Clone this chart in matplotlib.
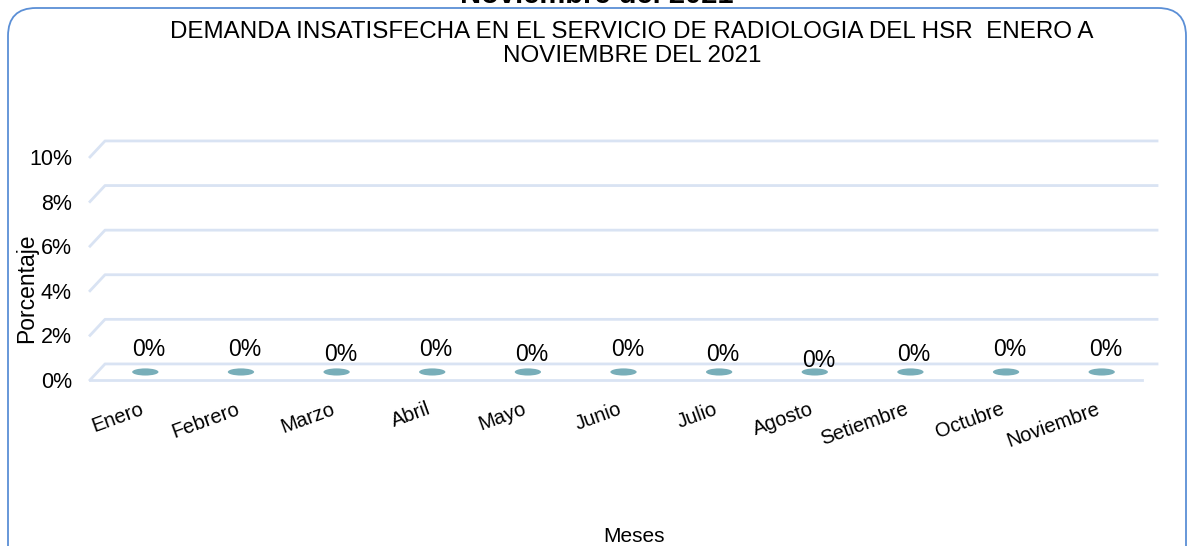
import matplotlib.pyplot as plt
import numpy as np
from matplotlib.patches import Ellipse, FancyBboxPatch

plt.rcParams['font.family'] = ['Liberation Sans', 'DejaVu Sans']

# Data
meses = ['Enero', 'Febrero', 'Marzo', 'Abril', 'Mayo', 'Junio', 'Julio',
         'Agosto', 'Setiembre', 'Octubre', 'Noviembre']
demanda = [0, 0, 0, 0, 0, 0, 0, 0, 0, 0, 0]   # percent
y_ticks = [0, 2, 4, 6, 8, 10]
y_labels = ['0%', '2%', '4%', '6%', '8%', '10%']

# style
grid_col = '#d9e3f3'
bar_col = '#78aeb9'
border_col = '#5b8fd6'
# small vertical nudges of the data labels (points), as placed in the original
label_nudge = [0, 0, -3.5, 0, -3.5, 0, -3.5, -8, -3.5, 0, 0]

fig = plt.figure(figsize=(11.91, 5.46), dpi=100)
ax = fig.add_axes([90 / 1191, 1 - 380 / 546, 1052 / 1191, 223 / 546])
ax.set_xlim(-0.5, len(meses) - 0.5)
ax.set_ylim(0, 10)
for s in ax.spines.values():
    s.set_visible(False)

# pseudo 3D depth offset (data units)
dx, dy = 0.157, 0.72
x0, x1 = -0.5, len(meses) - 0.5

# back wall gridlines with slanted side edge
for yv in y_ticks[1:]:
    ax.plot([x0, x0 + dx, x1 + dx], [yv, yv + dy, yv + dy],
            color=grid_col, lw=2, clip_on=False, zorder=1)
# floor
ax.plot([x0, x0 + dx, x1 + dx], [0, dy, dy], color=grid_col, lw=2, clip_on=False, zorder=1)
ax.plot([x0, x1], [0, 0], color=grid_col, lw=2, clip_on=False, zorder=1)

# zero-height cylinders: only their tops show
xs = np.arange(len(meses))
for i, v in enumerate(demanda):
    ax.add_patch(Ellipse((xs[i] + dx / 2, v + dy / 2), 0.275, 0.32,
                         facecolor=bar_col, edgecolor='none', zorder=3, clip_on=False))
    ax.annotate(f'{v:.0f}%', (xs[i] + dx / 2 + 0.04, v + dy / 2),
                xytext=(0, 16 + label_nudge[i]), textcoords='offset points',
                ha='center', va='center', fontsize=16.5, zorder=4)

ax.set_yticks(y_ticks)
ax.set_yticklabels(y_labels, fontsize=15.5)
ax.set_xticks(xs + 0.02)
ax.set_xticklabels(meses, fontsize=14.5, rotation=20, ha='right',
                   rotation_mode='anchor')
ax.tick_params(axis='y', length=0, pad=13)
ax.tick_params(axis='x', length=0, pad=14)

# titles and axis labels
fig.text(632 / 1191, 1 - 21 / 546,
         'DEMANDA INSATISFECHA EN EL SERVICIO DE RADIOLOGIA DEL HSR  ENERO A\nNOVIEMBRE DEL 2021',
         ha='center', va='top', fontsize=17.4, linespacing=1.1)
fig.text(597 / 1191, 1 - 3 / 546, 'Noviembre del 2021', ha='center', va='baseline',
         fontsize=21, fontweight='bold')
fig.text(27 / 1191, 1 - 288 / 546, 'Porcentaje', rotation=90, ha='center', va='center',
         fontsize=16.5)
fig.text(634 / 1191, 1 - 537 / 546, 'Meses', ha='center', va='center', fontsize=15)

# rounded chart border (bottom runs off the picture)
fig.patches.append(FancyBboxPatch((0.08, -0.4), 11.78, 0.4 + 5.38,
                                  boxstyle='round,pad=0,rounding_size=0.28',
                                  transform=fig.dpi_scale_trans, facecolor='none',
                                  edgecolor=border_col, lw=1.3))

plt.savefig('out.png', dpi=100)
plt.close()
